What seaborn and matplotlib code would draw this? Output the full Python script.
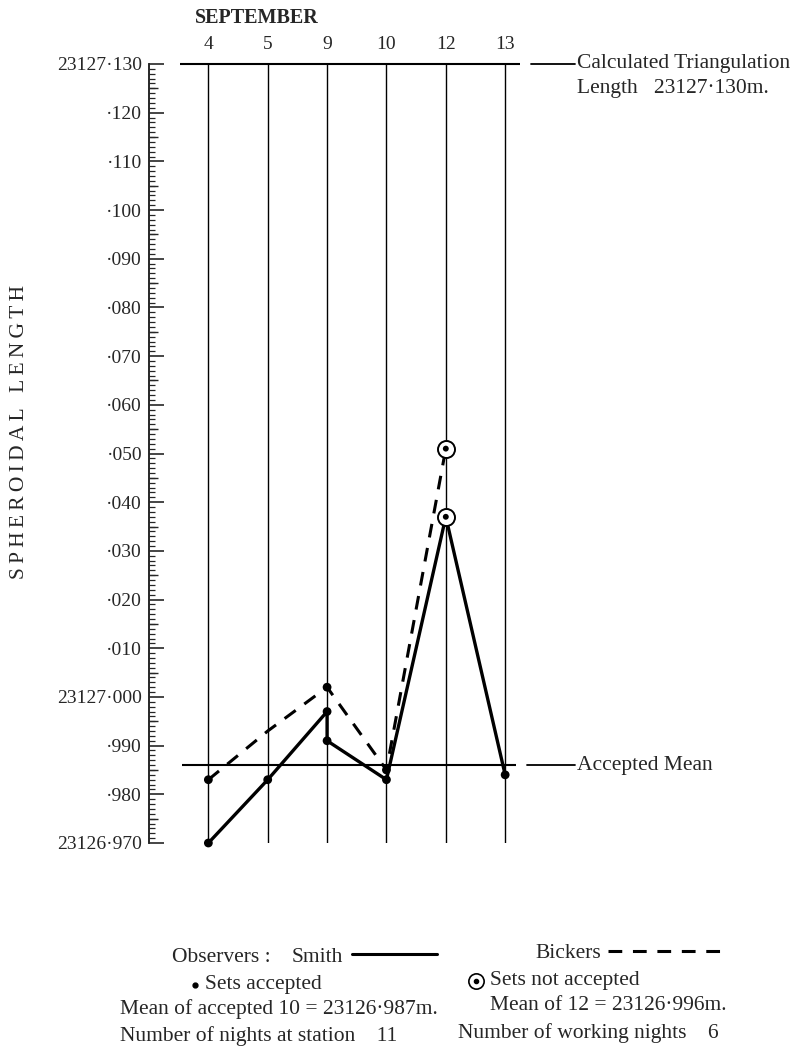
import numpy as np
import pandas as pd
import matplotlib
matplotlib.use("Agg")
import matplotlib.pyplot as plt
import matplotlib.transforms as mtransforms
from matplotlib.ticker import FixedLocator, MultipleLocator
import seaborn as sns

sns.set_style("white")
plt.rcParams['font.family'] = ['Liberation Serif', 'DejaVu Serif']

# ---- data ----
dates = ['4', '5', '9', '10', '12', '13']

# Smith (solid), two sets on the 9th
smith_days = ['4', '5', '9', '9', '10', '12', '13']
smith_vals = [23126.970, 23126.983, 23126.997, 23126.991, 23126.983, 23127.037, 23126.984]

# Bickers (dashed)
bickers_days = ['4', '5', '9', '10', '12']
bickers_vals = [23126.983, 23126.993, 23127.002, 23126.985, 23127.051]

# sets accepted (dots)
acc_days = ['4', '5', '9', '9', '10', '13', '4', '9', '10']
acc_vals = [23126.970, 23126.983, 23126.997, 23126.991, 23126.983, 23126.984,
            23126.983, 23127.002, 23126.985]

# sets not accepted (circled dots)
rej_days = ['12', '12']
rej_vals = [23127.037, 23127.051]

calc_length = 23127.130
accepted_mean = 23126.986
y_low, y_high = 23126.970, 23127.130

ytick_labels = ['23126·970', '·980', '·990', '23127·000', '·010', '·020', '·030', '·040',
                '·050', '·060', '·070', '·080', '·090', '·100', '·110', '·120', '23127·130']

def to_df(days, vals):
    return pd.DataFrame({'pos': [dates.index(d) for d in days], 'length': vals})

smith_df = to_df(smith_days, smith_vals)
bickers_df = to_df(bickers_days, bickers_vals)
acc_df = to_df(acc_days, acc_vals)
rej_df = to_df(rej_days, rej_vals)

# ---- figure ----
W, H = 804, 1053
def fx(x):
    return x / W
def fy(y):
    return 1 - y / H

FS = 15.5  # text size of the notes

fig = plt.figure(figsize=(W / 100, H / 100), dpi=100)
ax = fig.add_axes([fx(149), fy(843), (520 - 149) / W, (843 - 64) / H])
ax.set_xlim(-1.0, 5.25)
ax.set_ylim(y_low, y_high)

# vertical date lines
ax.vlines(range(len(dates)), y_low, y_high, color='black', lw=1.0, zorder=1)
# calculated length (top) and accepted mean
ax.hlines(calc_length, -0.47, 5.25, color='black', lw=1.5, clip_on=False, zorder=1)
ax.hlines(accepted_mean, -0.44, 5.19, color='black', lw=1.5, zorder=1)

sns.lineplot(data=smith_df, x='pos', y='length', sort=False, estimator=None,
             color='black', linewidth=2.4, ax=ax, zorder=3, clip_on=False)
sns.lineplot(data=bickers_df, x='pos', y='length', sort=False, estimator=None,
             color='black', linewidth=2.2, linestyle=(0, (4.5, 3.5)), ax=ax, zorder=3)
sns.scatterplot(data=acc_df, x='pos', y='length', color='black', s=40,
                edgecolor='none', ax=ax, zorder=4, clip_on=False)
sns.scatterplot(data=rej_df, x='pos', y='length', marker='o', s=150, facecolor='white',
                edgecolor='black', linewidth=1.4, ax=ax, zorder=5)
sns.scatterplot(data=rej_df, x='pos', y='length', color='black', s=18,
                edgecolor='none', ax=ax, zorder=6)

# axes styling
for side in ['top', 'right', 'bottom']:
    ax.spines[side].set_visible(False)
ax.spines['left'].set_linewidth(1.2)
ax.set_xlabel('')
ax.set_ylabel('')

ax.xaxis.tick_top()
ax.set_xticks(range(len(dates)))
ax.set_xticklabels(dates, fontsize=14)
ax.tick_params(axis='x', length=0, pad=8)

yticks = [round(y_low + 0.01 * i, 3) for i in range(len(ytick_labels))]
ax.yaxis.set_major_locator(FixedLocator(yticks))
ax.set_yticklabels(ytick_labels, fontsize=14)
ax.yaxis.set_minor_locator(MultipleLocator(0.001))
ax.tick_params(axis='y', which='both', left=True)
ax.tick_params(axis='y', which='major', direction='in', length=11, width=1.2, pad=5)
ax.tick_params(axis='y', which='minor', direction='in', length=4, width=0.9)

# medium ticks every .005
sec = ax.secondary_yaxis('left')
sec.set_yticks([round(y_low + 0.005 + 0.01 * i, 3) for i in range(16)])
sec.tick_params(left=True, direction='in', length=6.5, width=1.0, labelleft=False)
sec.spines['left'].set_linewidth(1.2)

# right-hand annotations
blend = mtransforms.blended_transform_factory(ax.transAxes, ax.transData)
ax.plot([1.030, 1.148], [calc_length, calc_length], color='black', lw=1.3,
        transform=blend, clip_on=False)
ax.text(1.154, calc_length, 'Calculated Triangulation', transform=blend,
        fontsize=FS, va='center', ha='left')
ax.annotate('Length   23127·130m.', xy=(1.154, calc_length), xycoords=blend,
            xytext=(0, -18), textcoords='offset points', fontsize=FS, va='center', ha='left')
ax.plot([1.019, 1.148], [accepted_mean, accepted_mean], color='black', lw=1.3,
        transform=blend, clip_on=False)
ax.text(1.154, accepted_mean, 'Accepted Mean', transform=blend,
        fontsize=FS, va='center', ha='left')

fig.text(fx(257), fy(18), 'SEPTEMBER', fontsize=14.5, fontweight='bold', ha='center', va='center')
ylabel = '\u2009'.join('SPHEROIDAL') + '   ' + '\u2009'.join('LENGTH')
fig.text(fx(20), fy(432), ylabel, fontsize=15.5, rotation=90, ha='center', va='center')

# ---- key below the chart ----
fig.text(fx(172), fy(957), 'Observers :', fontsize=FS, va='center')
fig.text(fx(292), fy(957), 'Smith', fontsize=FS, va='center')
fig.add_artist(plt.Line2D([fx(352), fx(437)], [fy(954), fy(954)], color='black', lw=2.2))
fig.text(fx(535), fy(954), 'Bickers', fontsize=FS, va='center')
fig.add_artist(plt.Line2D([fx(608), fx(720)], [fy(951), fy(951)], color='black', lw=2.2,
                          linestyle=(0, (4.5, 3.5))))

fig.add_artist(plt.Line2D([fx(195)], [fy(985)], marker='o', markersize=3.5,
                          color='black', lw=0))
fig.text(fx(205), fy(985), 'Sets accepted', fontsize=FS, va='center')
fig.add_artist(plt.Line2D([fx(476)], [fy(981)], marker='o', markersize=11,
                          markerfacecolor='white', markeredgecolor='black',
                          markeredgewidth=1.2, lw=0))
fig.add_artist(plt.Line2D([fx(476)], [fy(981)], marker='o', markersize=3,
                          color='black', lw=0))
fig.text(fx(490), fy(981), 'Sets not accepted', fontsize=FS, va='center')

fig.text(fx(120), fy(1009), 'Mean of accepted 10 = 23126·987m.', fontsize=FS, va='center')
fig.text(fx(490), fy(1005), 'Mean of 12 = 23126·996m.', fontsize=FS, va='center')
fig.text(fx(120), fy(1036), 'Number of nights at station    11', fontsize=FS, va='center')
fig.text(fx(458), fy(1033), 'Number of working nights    6', fontsize=FS, va='center')

fig.savefig('out.png', dpi=100)
